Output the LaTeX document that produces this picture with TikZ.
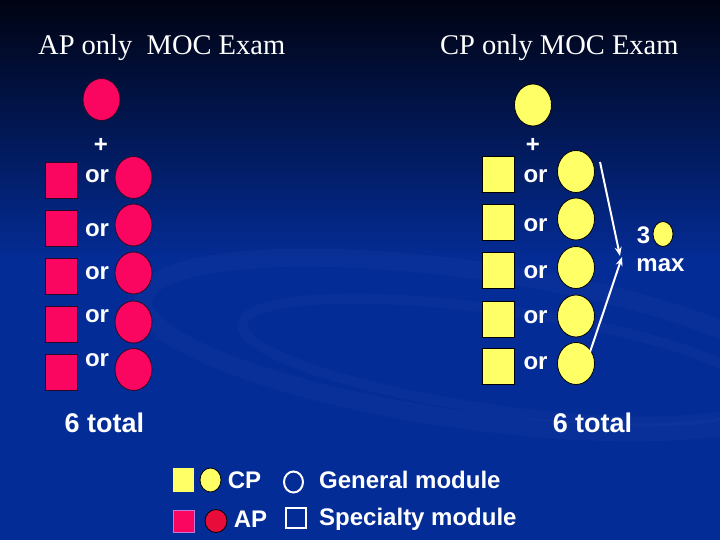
\documentclass[tikz,border=0pt]{standalone}
\usepackage{fontspec}
\setmainfont{Liberation Serif}
\newfontfamily\arialfont{Liberation Sans}
\usetikzlibrary{shapes.geometric,arrows.meta}
\definecolor{bgtop}{RGB}{0,3,18}
\definecolor{bgmid}{RGB}{0,32,110}
\definecolor{bgbot}{RGB}{4,44,150}
\definecolor{apink}{RGB}{250,5,95}
\definecolor{ayel}{RGB}{255,255,102}
\definecolor{ared}{RGB}{232,12,58}
\definecolor{edge}{RGB}{40,10,40}
\tikzset{
  pinksq/.style={rectangle, fill=apink, draw=edge, line width=0.8pt, minimum width=32, minimum height=36, inner sep=0pt},
  pinkc/.style={ellipse, fill=apink, draw=edge, line width=0.8pt, minimum width=37, minimum height=42, inner sep=0pt},
  yelsq/.style={rectangle, fill=ayel, draw=black, line width=0.8pt, minimum width=32, minimum height=36, inner sep=0pt},
  yelc/.style={ellipse, fill=ayel, draw=black, line width=0.8pt, minimum width=37, minimum height=42, inner sep=0pt},
  lbl/.style={text=white, inner sep=0pt, font=\arialfont\bfseries\fontsize{24}{24}\selectfont},
  biglbl/.style={text=white, inner sep=0pt, font=\arialfont\bfseries\fontsize{27}{27}\selectfont},
  ttl/.style={text=white, inner sep=0pt, anchor=base west, font=\fontsize{28.5}{30}\selectfont},
  arr/.style={white, line width=2pt, -{Stealth[length=9pt,width=7pt]}}
}
\begin{document}
\begin{tikzpicture}[x=1pt,y=-1pt]
\useasboundingbox (0,0) rectangle (720,540);
% background
\fill[bgbot] (0,0) rectangle (720,540);
\shade[top color=bgtop, middle color=bgmid, bottom color=bgbot] (0,0) rectangle (720,260);
\draw[white, opacity=0.025, line width=18pt, rotate around={-8:(470,345)}] (470,345) ellipse (330 and 75);
\draw[white, opacity=0.02, line width=10pt, rotate around={-8:(500,360)}] (500,360) ellipse (260 and 50);
% titles
\node[ttl] (t1) at (38,55) {AP only\ \ MOC Exam};
\node[ttl] (t2) at (440,55) {CP only MOC Exam};
% left column (AP)
\node[pinkc] (lc0) at (101.5,99.5) {};
\node[lbl] (lp) at (101,145) {+};
\node[pinksq] (ls1) at (61.5,180) {};
\node[lbl] (lo1) at (97,176) {or};
\node[pinkc] (lc1) at (133.5,177.5) {};
\node[pinksq] (ls2) at (61.5,228.5) {};
\node[lbl] (lo2) at (97,230) {or};
\node[pinkc] (lc2) at (133.5,225) {};
\node[pinksq] (ls3) at (61.5,276) {};
\node[lbl] (lo3) at (97,273) {or};
\node[pinkc] (lc3) at (133.5,273) {};
\node[pinksq] (ls4) at (61.5,324.5) {};
\node[lbl] (lo4) at (97,316) {or};
\node[pinkc] (lc4) at (133.5,322) {};
\node[pinksq] (ls5) at (61.5,372.5) {};
\node[lbl] (lo5) at (97,360) {or};
\node[pinkc] (lc5) at (133.5,369.5) {};
\node[biglbl] (ltot) at (104.5,422.5) {6 total};
% right column (CP)
\node[yelc] (rc0) at (533,105) {};
\node[lbl] (rp) at (533,145) {+};
\node[yelsq] (rs1) at (498,174.5) {};
\node[lbl] (ro1) at (535.5,176) {or};
\node[yelc] (rc1) at (576,171.5) {};
\node[yelsq] (rs2) at (498,222) {};
\node[lbl] (ro2) at (535.5,225) {or};
\node[yelc] (rc2) at (576,219) {};
\node[yelsq] (rs3) at (498,270) {};
\node[lbl] (ro3) at (535.5,272) {or};
\node[yelc] (rc3) at (576,267.5) {};
\node[yelsq] (rs4) at (498,319) {};
\node[lbl] (ro4) at (535.5,317) {or};
\node[yelc] (rc4) at (576,316) {};
\node[yelsq] (rs5) at (498,366.5) {};
\node[lbl] (ro5) at (535.5,363) {or};
\node[yelc] (rc5) at (576,363.5) {};
\node[biglbl] (rtot) at (592.5,422.5) {6 total};
% 3 max
\node[lbl] (three) at (643.5,235.5) {3};
\node[yelc, minimum width=20, minimum height=25] (mc) at (663,234) {};
\node[lbl] (max) at (660.5,265) {max};
\coordinate (a1s) at (600,162);
\coordinate (a1e) at (620,256);
\coordinate (a2s) at (590,352);
\coordinate (a2e) at (622,257);
\draw[arr] (a1s) -- (a1e);
\draw[arr] (a2s) -- (a2e);
% legend
\node[yelsq, draw=none, minimum width=21, minimum height=24] (gs1) at (183.5,480) {};
\node[yelc, minimum width=21, minimum height=24] (gc1) at (210.5,480) {};
\node[lbl, anchor=base] (gcp) at (244.5,488) {CP};
\node[pinksq, draw={rgb,255:red,190;green,120;blue,220}, minimum width=21, minimum height=22] (gs2) at (183.5,521) {};
\node[ellipse, fill=ared, draw=black, line width=0.8pt, minimum width=22, minimum height=23, inner sep=0pt] (gc2) at (216,521) {};
\node[lbl, anchor=base] (gap) at (250.5,527) {AP};
\node[ellipse, draw=white, line width=2pt, minimum width=19, minimum height=21, inner sep=0pt] (gw1) at (293.5,482) {};
\node[rectangle, draw=white, line width=2pt, minimum width=20, minimum height=20, inner sep=0pt] (gw2) at (296,517.5) {};
\node[lbl, anchor=base west] (gen) at (319,488) {General module};
\node[lbl, anchor=base west] (spec) at (319,525) {Specialty module};
\end{tikzpicture}
\end{document}
